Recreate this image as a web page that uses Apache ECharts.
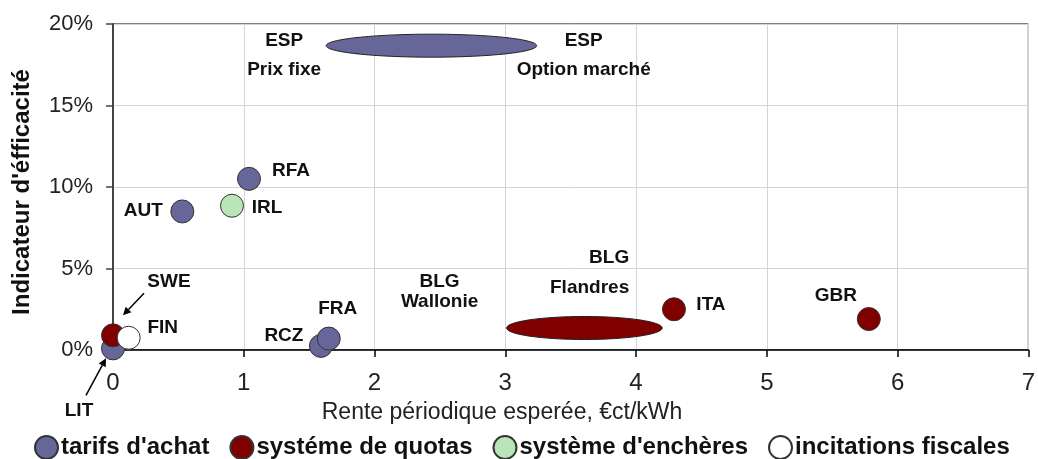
<!DOCTYPE html>
<html><head><meta charset="utf-8">
<script src="https://cdn.jsdelivr.net/npm/echarts@6/dist/echarts.min.js"></script>
<style>html,body{margin:0;padding:0;background:#fff}#c{width:1038px;height:459px}</style>
</head><body><div id="c"></div>
<script>
// ---- data ----
const seriesNames = ["tarifs d'achat", "systéme de quotas", "système d'enchères", "incitations fiscales"];
const tarifsLabels = ['LIT', 'AUT', 'RFA', 'RCZ', 'FRA'];
const tarifsX = [0.0, 0.53, 1.04, 1.59, 1.65];
const tarifsY = [0.1, 8.5, 10.5, 0.25, 0.7];
const quotasLabels = ['SWE', 'ITA', 'GBR'];
const quotasX = [0.0, 4.29, 5.78];
const quotasY = [0.9, 2.5, 1.9];
const encheresLabels = ['IRL'];
const encheresX = [0.91];
const encheresY = [8.85];
const fiscalesLabels = ['FIN'];
const fiscalesX = [0.12];
const fiscalesY = [0.75];
// ranges drawn as ellipses (min x, max x, y)
const rangeNames = ['ESP', 'BLG'];
const rangeXMin = [1.63, 3.01];
const rangeXMax = [3.24, 4.20];
const rangeY = [18.67, 1.35];
const rangeSeriesIdx = [0, 1];
const rangeTextLeft = ['ESP\nPrix fixe', 'BLG\nWallonie'];
const rangeTextRight = ['ESP\nOption marché', 'BLG\nFlandres'];
// arrows pointing at these labels
const arrowTargets = ['SWE', 'LIT'];
const xTickMin = 0, xTickMax = 7, xTickStep = 1;
const yTickMin = 0, yTickMax = 20, yTickStep = 5;

// ---- styles ----
const FONT = 'Liberation Sans, Arial, sans-serif';
const colors = ['#666699', '#800000', '#b9e5b9', '#ffffff'];
const labelOffsets = {
  LIT: [-34, 62], AUT: [-39, -1], RFA: [42, -8], RCZ: [-37, -10], FRA: [9, -30],
  SWE: [56, -54], ITA: [37, -4], GBR: [-33, -23], IRL: [35, 2], FIN: [34, -10]
};
const rangeTextStyle = [
  { left: [-42, 10, 'center', 29], right: [47, 10, 'center', 29] },
  { left: [-67, -36, 'center', 20], right: [-33, -55, 'right', 30] }
];
const arrowGeom = { SWE: [[31, -42], [10, -20]], LIT: [[-27, 47], [-7, 10]] };

const allPoints = {};
function mk(labels, xs, ys) {
  return labels.map((n, i) => {
    allPoints[n] = [xs[i], ys[i]];
    return { name: n, value: [xs[i], ys[i]], label: { offset: labelOffsets[n] } };
  });
}
const groups = [
  mk(tarifsLabels, tarifsX, tarifsY),
  mk(quotasLabels, quotasX, quotasY),
  mk(encheresLabels, encheresX, encheresY),
  mk(fiscalesLabels, fiscalesX, fiscalesY)
];

const scatterSeries = groups.map((d, i) => ({
  name: seriesNames[i], type: 'scatter', data: d, symbolSize: 23, z: 3,
  itemStyle: { color: colors[i], borderColor: '#333', borderWidth: 1, opacity: 1 },
  label: {
    show: true, position: 'inside', formatter: '{b}', color: '#111', fontFamily: FONT,
    fontWeight: 'bold', fontSize: 19, textBorderWidth: 0
  },
  emphasis: { disabled: true }
}));

const rangeSeries = {
  type: 'custom', name: 'ranges', z: 2, clip: false, silent: true,
  data: rangeNames.map((n, i) => [rangeXMin[i], rangeXMax[i], rangeY[i]]),
  encode: { x: [0, 1], y: 2 },
  renderItem: function (params, api) {
    const i = params.dataIndex;
    const p1 = api.coord([api.value(0), api.value(2)]);
    const p2 = api.coord([api.value(1), api.value(2)]);
    const st = rangeTextStyle[i];
    const txt = (t, o) => ({
      type: 'text', x: o[0], y: o[1],
      style: { text: t, align: o[2], verticalAlign: 'middle', lineHeight: o[3],
        font: 'bold 19px ' + FONT, fill: '#111' }
    });
    return { type: 'group', children: [
      { type: 'ellipse', shape: { cx: (p1[0] + p2[0]) / 2, cy: p1[1], rx: (p2[0] - p1[0]) / 2, ry: 11.5 },
        style: { fill: colors[rangeSeriesIdx[i]], stroke: '#222', lineWidth: 1 } },
      txt(rangeTextLeft[i], [p1[0] + st.left[0], p1[1] + st.left[1], st.left[2], st.left[3]]),
      txt(rangeTextRight[i], [p2[0] + st.right[0], p2[1] + st.right[1], st.right[2], st.right[3]])
    ] };
  }
};

const arrowSeries = {
  type: 'custom', name: 'arrows', z: 4, clip: false, silent: true,
  data: arrowTargets.map(n => allPoints[n]),
  renderItem: function (params, api) {
    const n = arrowTargets[params.dataIndex];
    const p = api.coord([api.value(0), api.value(1)]);
    const g = arrowGeom[n];
    const s = [p[0] + g[0][0], p[1] + g[0][1]], e = [p[0] + g[1][0], p[1] + g[1][1]];
    const ang = Math.atan2(e[1] - s[1], e[0] - s[0]);
    const L = 8, W = 4;
    const bx = e[0] - L * Math.cos(ang), by = e[1] - L * Math.sin(ang);
    const nx = -Math.sin(ang) * W, ny = Math.cos(ang) * W;
    return { type: 'group', children: [
      { type: 'line', shape: { x1: s[0], y1: s[1], x2: bx, y2: by }, style: { stroke: '#000', lineWidth: 1.5 } },
      { type: 'polygon', shape: { points: [e, [bx + nx, by + ny], [bx - nx, by - ny]] }, style: { fill: '#000' } }
    ] };
  }
};

const chart = echarts.init(document.getElementById('c'), null, { renderer: 'canvas' });
chart.setOption({
  animation: false,
  backgroundColor: '#fff',
  textStyle: { fontFamily: FONT },
  grid: { left: 113, right: 7, top: 24, bottom: 109, show: true, borderColor: '#000', borderWidth: 1 },
  xAxis: {
    type: 'value', min: xTickMin, max: xTickMax, interval: xTickStep,
    axisLine: { show: true, onZero: false, lineStyle: { color: '#000', width: 1.5 } },
    axisTick: { show: true, inside: false, length: 7, lineStyle: { color: '#000', width: 1.5 } },
    axisLabel: { fontSize: 24, color: '#222', margin: 21, fontFamily: FONT },
    splitLine: { show: true, lineStyle: { color: '#d4d4d4', width: 1 } }
  },
  yAxis: {
    type: 'value', min: yTickMin, max: yTickMax, interval: yTickStep,
    axisLine: { show: true, onZero: false, lineStyle: { color: '#444', width: 2 } },
    axisTick: { show: true, inside: false, length: 7, lineStyle: { color: '#444', width: 1.5 } },
    axisLabel: { fontSize: 22, color: '#222', margin: 20, fontFamily: FONT, formatter: '{value}%' },
    splitLine: { show: true, lineStyle: { color: '#d4d4d4', width: 1 } }
  },
  legend: {
    data: seriesNames, left: 34, top: 435, padding: 0, icon: 'circle', itemWidth: 23, itemHeight: 23, itemGap: 20,
    textStyle: { fontSize: 24, fontWeight: 'bold', color: '#111', fontFamily: FONT, padding: [0, 0, 0, -2] },
    selectedMode: false
  },
  graphic: [
    { type: 'text', x: 502, y: 413, style: { text: 'Rente périodique esperée, €ct/kWh', font: '23px ' + FONT,
      fill: '#222', align: 'center', verticalAlign: 'middle' } },
    { type: 'text', x: 22, y: 192, rotation: Math.PI / 2, style: { text: "Indicateur d'éfficacité",
      font: 'bold 24px ' + FONT, fill: '#111', align: 'center', verticalAlign: 'middle' } }
  ],
  series: [rangeSeries].concat(scatterSeries, [arrowSeries])
});
</script>
</body></html>
